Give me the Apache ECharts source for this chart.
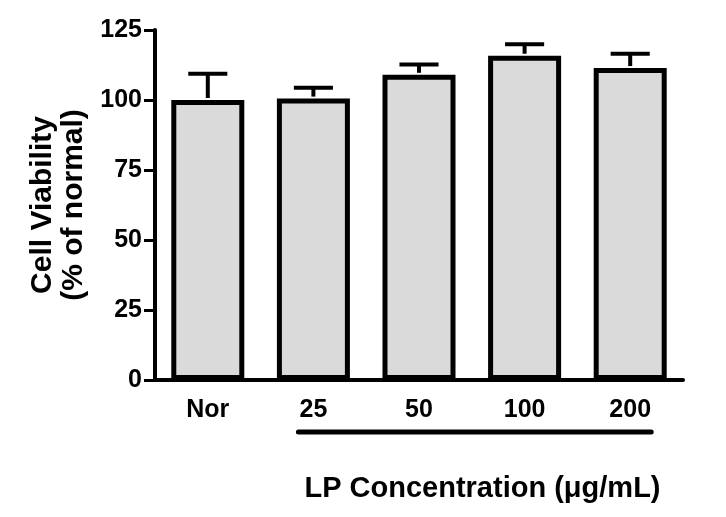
<!DOCTYPE html>
<html>
<head>
<meta charset="utf-8">
<script src="https://cdn.jsdelivr.net/npm/echarts@6/dist/echarts.min.js"></script>
<style>html,body{margin:0;padding:0;background:#fff}#c{width:726px;height:517px}</style>
</head>
<body>
<div id="c"></div>
<script>
var categories = ['Nor', '25', '50', '100', '200'];
var viability = [100, 100.5, 109.0, 115.8, 111.4];
var errorUp = [9.4, 3.9, 3.7, 4.1, 5.1];
var yTicks = [0, 25, 50, 75, 100, 125];

var FONT = '"Liberation Sans", Arial, sans-serif';
var chart = echarts.init(document.getElementById('c'), null, {renderer: 'canvas'});

var errData = categories.map(function (c, i) { return [i, viability[i], viability[i] + errorUp[i]]; });

var option = {
  animation: false,
  backgroundColor: '#ffffff',
  grid: {left: 155, right: 43, top: 30, bottom: 137, containLabel: false},
  xAxis: {
    type: 'category',
    data: categories,
    name: 'LP Concentration (\u03bcg/mL)',
    nameLocation: 'middle',
    nameGap: 94,
    nameTextStyle: {fontFamily: FONT, fontWeight: 'bold', fontSize: 29, color: '#000', padding: [0, 0, 0, 127]},
    axisLine: {lineStyle: {color: '#000', width: 4}},
    axisTick: {show: false},
    axisLabel: {fontFamily: FONT, fontWeight: 'bold', fontSize: 25, color: '#000', margin: 18}
  },
  yAxis: {
    type: 'value',
    min: yTicks[0],
    max: yTicks[yTicks.length - 1],
    interval: 25,
    name: 'Cell Viability\n(% of normal)',
    nameLocation: 'middle',
    nameGap: 66,
    nameRotate: 90,
    nameTextStyle: {fontFamily: FONT, fontWeight: 'bold', fontSize: 30, lineHeight: 31, color: '#000'},
    axisLine: {show: true, lineStyle: {color: '#000', width: 4}},
    axisTick: {show: true, inside: false, length: 11, lineStyle: {color: '#000', width: 3}},
    axisLabel: {fontFamily: FONT, fontWeight: 'bold', fontSize: 25, color: '#000', margin: 13},
    splitLine: {show: false}
  },
  series: [
    {
      type: 'bar',
      data: viability,
      barWidth: 73,
      itemStyle: {color: '#dadada', borderColor: '#000', borderWidth: 5},
      z: 2
    },
    {
      type: 'custom',
      data: errData,
      z: 3,
      renderItem: function (params, api) {
        var i = api.value(0);
        var lo = api.coord([i, api.value(1)]);
        var hi = api.coord([i, api.value(2)]);
        var half = api.size([1, 0])[0] * 0.185;
        var st = {stroke: '#000', lineWidth: 4};
        return {
          type: 'group',
          children: [
            {type: 'line', shape: {x1: lo[0], y1: lo[1] - 2, x2: hi[0], y2: hi[1]}, style: st},
            {type: 'line', shape: {x1: hi[0] - half, y1: hi[1], x2: hi[0] + half, y2: hi[1]}, style: st}
          ]
        };
      }
    }
  ]
};
chart.setOption(option);

// underline grouping the LP concentrations
var p1 = chart.convertToPixel({xAxisIndex: 0}, categories[1]);
var p2 = chart.convertToPixel({xAxisIndex: 0}, categories[categories.length - 1]);
var yBase = chart.convertToPixel({yAxisIndex: 0}, 0);
chart.setOption({
  graphic: [{
    type: 'line',
    shape: {x1: p1 - 15, y1: yBase + 52, x2: p2 + 21, y2: yBase + 52},
    style: {stroke: '#000', lineWidth: 5, lineCap: 'round'}
  }]
});
</script>
</body>
</html>
